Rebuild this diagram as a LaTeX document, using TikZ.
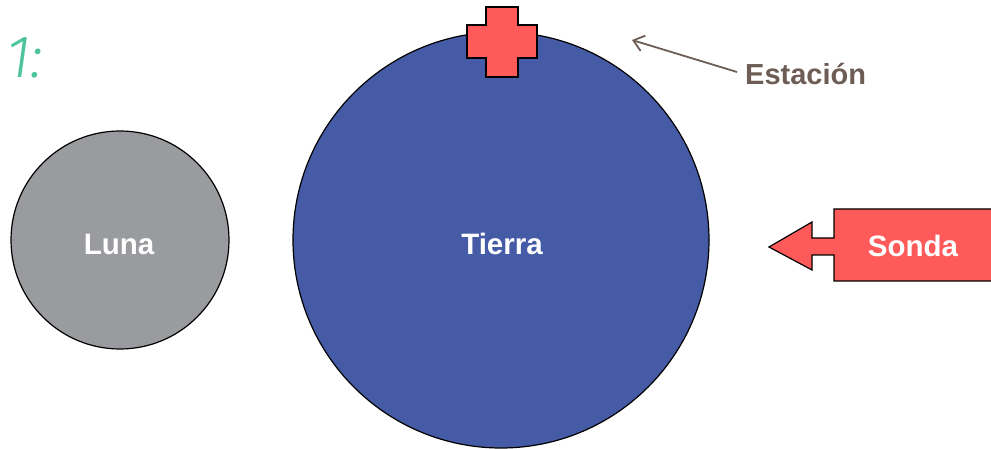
\documentclass[tikz,border=0pt]{standalone}
\usepackage{fontspec}
\setmainfont{Liberation Sans}
\newfontfamily\numfont{Fira Sans Light}[ItalicFont={Fira Sans Light Italic}]
\usetikzlibrary{arrows.meta}
\definecolor{tierrablue}{HTML}{465BA6}
\definecolor{lunagray}{HTML}{9A9B9E}
\definecolor{sondared}{HTML}{FF5A5A}
\definecolor{labelbrown}{HTML}{6D5D55}
\definecolor{numgreen}{HTML}{4DC49A}
\begin{document}
\begin{tikzpicture}[x=1pt,y=-1pt,
  body/.style={circle,draw=black,line width=1.2pt,inner sep=0pt},
  bodylabel/.style={text=white,font=\fontsize{29.5}{32}\selectfont\bfseries},
  redshape/.style={fill=sondared,draw=black,line width=1.2pt,line join=miter}]
\useasboundingbox (0,0) rectangle (991,449);
\clip (0,0) rectangle (991,449);
\node[font=\fontsize{60}{62}\numfont\itshape,text=numgreen,anchor=base west,inner sep=0pt] (num) at (6,78) {1:};
\node[body,fill=lunagray,minimum size=218pt] (luna) at (120,240) {};
\node[bodylabel] (lunat) at (119,244) {Luna};
\node[body,fill=tierrablue,minimum size=416pt] (tierra) at (501,240) {};
\node[bodylabel] (tierrat) at (502,244) {Tierra};
\draw[redshape] (486,7) -- (518,7) -- (518,25) -- (537,25) -- (537,58) -- (518,58) -- (518,77) -- (486,77) -- (486,58) -- (467,58) -- (467,25) -- (486,25) -- cycle;
\coordinate (crossc) at (502,42);
\draw[redshape] (834,209) -- (1000,209) -- (1000,281) -- (834,281) -- (834,255) -- (812,255) -- (812,270) -- (769,247) -- (812,222) -- (812,238) -- (834,238) -- cycle;
\node[bodylabel] (sonda) at (913,246) {Sonda};
\node[text=labelbrown,font=\fontsize{29}{32}\selectfont\bfseries,anchor=west,inner sep=0pt] (estacion) at (745,74) {Estación};
\coordinate (esttip) at (632,40);
\draw[labelbrown,line width=1.8pt,-{Straight Barb[length=10pt,width=16pt]}] (737,72) -- (esttip);
\end{tikzpicture}
\end{document}
